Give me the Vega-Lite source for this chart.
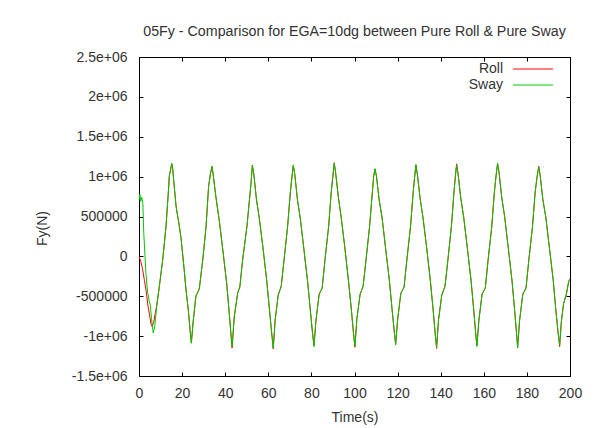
{
  "$schema": "https://vega.github.io/schema/vega-lite/v6.json",
  "width": 431,
  "height": 319,
  "autosize": {"type": "none"},
  "padding": {"left": 139, "top": 57, "right": 43, "bottom": 52},
  "background": "white",
  "title": {"text": "05Fy - Comparison for EGA=10dg between Pure Roll & Pure Sway", "font": "Liberation Sans", "fontSize": 14.25, "fontWeight": "normal", "color": "#333333", "anchor": "middle", "offset": 11},
  "config": {
    "view": {"stroke": "#000000", "strokeWidth": 1},
    "axis": {"labelFont": "Liberation Sans", "labelFontSize": 14, "labelColor": "#333333", "titleFont": "Liberation Sans", "titleFontSize": 14, "titleFontWeight": "normal", "titleColor": "#333333", "grid": false, "domain": false, "tickColor": "#000000", "tickSize": -4, "labelFlush": false, "labelOverlap": false},
    "legend": {"labelFont": "Liberation Sans", "labelFontSize": 14, "labelColor": "#333333"}
  },
  "data": {"values": [
    {"time":0,"fy":0,"series":"Roll"},{"time":0.8,"fy":-60000,"series":"Roll"},{"time":1.6,"fy":-150000,"series":"Roll"},{"time":2.5,"fy":-300000,"series":"Roll"},{"time":3.3,"fy":-430000,"series":"Roll"},{"time":4.0,"fy":-590000,"series":"Roll"},{"time":4.8,"fy":-720000,"series":"Roll"},{"time":5.6,"fy":-850000,"series":"Roll"},{"time":6.1,"fy":-880000,"series":"Roll"},{"time":6.8,"fy":-830000,"series":"Roll"},{"time":7.5,"fy":-720000,"series":"Roll"},{"time":8.2,"fy":-620000,"series":"Roll"},{"time":9.4,"fy":-390000,"series":"Roll"},{"time":11.0,"fy":-40000,"series":"Roll"},{"time":12.5,"fy":360000,"series":"Roll"},{"time":13.5,"fy":760000,"series":"Roll"},{"time":14.1,"fy":1010000,"series":"Roll"},{"time":14.8,"fy":1110000,"series":"Roll"},{"time":15.2,"fy":1160000,"series":"Roll"},{"time":15.7,"fy":1090000,"series":"Roll"},{"time":16.1,"fy":950000,"series":"Roll"},{"time":17.2,"fy":630000,"series":"Roll"},{"time":18.4,"fy":430000,"series":"Roll"},{"time":19.5,"fy":235000,"series":"Roll"},{"time":21.0,"fy":-180000,"series":"Roll"},{"time":21.8,"fy":-410000,"series":"Roll"},{"time":22.9,"fy":-680000,"series":"Roll"},{"time":23.7,"fy":-930000,"series":"Roll"},{"time":24.3,"fy":-1080000,"series":"Roll"},{"time":25.2,"fy":-805000,"series":"Roll"},{"time":26.4,"fy":-495000,"series":"Roll"},{"time":28.0,"fy":-410000,"series":"Roll"},{"time":29.6,"fy":-35000,"series":"Roll"},{"time":31.1,"fy":365000,"series":"Roll"},{"time":32.3,"fy":880000,"series":"Roll"},{"time":33.2,"fy":1040000,"series":"Roll"},{"time":33.9,"fy":1125000,"series":"Roll"},{"time":34.5,"fy":1010000,"series":"Roll"},{"time":35.7,"fy":740000,"series":"Roll"},{"time":37.3,"fy":440000,"series":"Roll"},{"time":39.1,"fy":30000,"series":"Roll"},{"time":40.7,"fy":-345000,"series":"Roll"},{"time":41.9,"fy":-720000,"series":"Roll"},{"time":42.6,"fy":-960000,"series":"Roll"},{"time":43.2,"fy":-1150000,"series":"Roll"},{"time":44.2,"fy":-760000,"series":"Roll"},{"time":45.8,"fy":-455000,"series":"Roll"},{"time":46.8,"fy":-385000,"series":"Roll"},{"time":48.1,"fy":-40000,"series":"Roll"},{"time":50.1,"fy":380000,"series":"Roll"},{"time":51.2,"fy":690000,"series":"Roll"},{"time":52.0,"fy":925000,"series":"Roll"},{"time":52.6,"fy":1140000,"series":"Roll"},{"time":53.3,"fy":1030000,"series":"Roll"},{"time":54.5,"fy":710000,"series":"Roll"},{"time":55.8,"fy":485000,"series":"Roll"},{"time":57.5,"fy":110000,"series":"Roll"},{"time":59.2,"fy":-290000,"series":"Roll"},{"time":60.5,"fy":-660000,"series":"Roll"},{"time":61.5,"fy":-940000,"series":"Roll"},{"time":62.3,"fy":-1160000,"series":"Roll"},{"time":63.2,"fy":-790000,"series":"Roll"},{"time":64.6,"fy":-490000,"series":"Roll"},{"time":66.0,"fy":-370000,"series":"Roll"},{"time":67.3,"fy":-50000,"series":"Roll"},{"time":69.0,"fy":390000,"series":"Roll"},{"time":70.2,"fy":790000,"series":"Roll"},{"time":71.0,"fy":1010000,"series":"Roll"},{"time":71.6,"fy":1140000,"series":"Roll"},{"time":72.3,"fy":1030000,"series":"Roll"},{"time":73.5,"fy":710000,"series":"Roll"},{"time":74.8,"fy":490000,"series":"Roll"},{"time":76.5,"fy":90000,"series":"Roll"},{"time":78.2,"fy":-310000,"series":"Roll"},{"time":79.5,"fy":-670000,"series":"Roll"},{"time":80.5,"fy":-960000,"series":"Roll"},{"time":81.2,"fy":-1120000,"series":"Roll"},{"time":82.1,"fy":-810000,"series":"Roll"},{"time":83.6,"fy":-470000,"series":"Roll"},{"time":85.0,"fy":-400000,"series":"Roll"},{"time":86.3,"fy":-40000,"series":"Roll"},{"time":88.0,"fy":370000,"series":"Roll"},{"time":89.2,"fy":810000,"series":"Roll"},{"time":90.0,"fy":1010000,"series":"Roll"},{"time":90.6,"fy":1175000,"series":"Roll"},{"time":91.3,"fy":1030000,"series":"Roll"},{"time":92.5,"fy":750000,"series":"Roll"},{"time":93.8,"fy":490000,"series":"Roll"},{"time":95.5,"fy":120000,"series":"Roll"},{"time":97.2,"fy":-310000,"series":"Roll"},{"time":98.5,"fy":-650000,"series":"Roll"},{"time":99.5,"fy":-960000,"series":"Roll"},{"time":100.2,"fy":-1140000,"series":"Roll"},{"time":101.1,"fy":-780000,"series":"Roll"},{"time":102.6,"fy":-480000,"series":"Roll"},{"time":104.0,"fy":-370000,"series":"Roll"},{"time":105.3,"fy":-60000,"series":"Roll"},{"time":107.0,"fy":380000,"series":"Roll"},{"time":108.2,"fy":770000,"series":"Roll"},{"time":108.9,"fy":1010000,"series":"Roll"},{"time":109.5,"fy":1095000,"series":"Roll"},{"time":110.2,"fy":1010000,"series":"Roll"},{"time":111.4,"fy":710000,"series":"Roll"},{"time":112.8,"fy":490000,"series":"Roll"},{"time":114.5,"fy":80000,"series":"Roll"},{"time":116.2,"fy":-310000,"series":"Roll"},{"time":117.4,"fy":-650000,"series":"Roll"},{"time":118.4,"fy":-930000,"series":"Roll"},{"time":119.1,"fy":-1100000,"series":"Roll"},{"time":120.0,"fy":-800000,"series":"Roll"},{"time":121.5,"fy":-460000,"series":"Roll"},{"time":123.0,"fy":-390000,"series":"Roll"},{"time":124.3,"fy":-40000,"series":"Roll"},{"time":126.0,"fy":370000,"series":"Roll"},{"time":127.2,"fy":800000,"series":"Roll"},{"time":127.9,"fy":990000,"series":"Roll"},{"time":128.5,"fy":1150000,"series":"Roll"},{"time":129.2,"fy":1020000,"series":"Roll"},{"time":130.4,"fy":740000,"series":"Roll"},{"time":131.8,"fy":480000,"series":"Roll"},{"time":133.5,"fy":110000,"series":"Roll"},{"time":135.2,"fy":-310000,"series":"Roll"},{"time":136.5,"fy":-670000,"series":"Roll"},{"time":137.4,"fy":-960000,"series":"Roll"},{"time":138.1,"fy":-1155000,"series":"Roll"},{"time":139.0,"fy":-790000,"series":"Roll"},{"time":140.5,"fy":-490000,"series":"Roll"},{"time":142.0,"fy":-370000,"series":"Roll"},{"time":143.3,"fy":-60000,"series":"Roll"},{"time":145.0,"fy":390000,"series":"Roll"},{"time":146.1,"fy":780000,"series":"Roll"},{"time":146.8,"fy":1010000,"series":"Roll"},{"time":147.4,"fy":1160000,"series":"Roll"},{"time":148.1,"fy":1030000,"series":"Roll"},{"time":149.3,"fy":730000,"series":"Roll"},{"time":150.7,"fy":490000,"series":"Roll"},{"time":152.4,"fy":90000,"series":"Roll"},{"time":154.1,"fy":-310000,"series":"Roll"},{"time":155.3,"fy":-660000,"series":"Roll"},{"time":156.2,"fy":-960000,"series":"Roll"},{"time":156.8,"fy":-1120000,"series":"Roll"},{"time":157.7,"fy":-810000,"series":"Roll"},{"time":159.2,"fy":-470000,"series":"Roll"},{"time":160.7,"fy":-400000,"series":"Roll"},{"time":162.0,"fy":-40000,"series":"Roll"},{"time":163.7,"fy":370000,"series":"Roll"},{"time":164.9,"fy":810000,"series":"Roll"},{"time":165.7,"fy":1010000,"series":"Roll"},{"time":166.4,"fy":1160000,"series":"Roll"},{"time":167.1,"fy":1050000,"series":"Roll"},{"time":168.3,"fy":740000,"series":"Roll"},{"time":169.7,"fy":500000,"series":"Roll"},{"time":171.4,"fy":90000,"series":"Roll"},{"time":173.1,"fy":-310000,"series":"Roll"},{"time":174.3,"fy":-670000,"series":"Roll"},{"time":175.2,"fy":-970000,"series":"Roll"},{"time":175.7,"fy":-1140000,"series":"Roll"},{"time":176.6,"fy":-810000,"series":"Roll"},{"time":178.1,"fy":-470000,"series":"Roll"},{"time":179.6,"fy":-400000,"series":"Roll"},{"time":180.9,"fy":-40000,"series":"Roll"},{"time":182.6,"fy":370000,"series":"Roll"},{"time":183.8,"fy":800000,"series":"Roll"},{"time":184.7,"fy":990000,"series":"Roll"},{"time":185.5,"fy":1130000,"series":"Roll"},{"time":186.2,"fy":1010000,"series":"Roll"},{"time":187.4,"fy":710000,"series":"Roll"},{"time":188.8,"fy":490000,"series":"Roll"},{"time":190.5,"fy":90000,"series":"Roll"},{"time":192.2,"fy":-300000,"series":"Roll"},{"time":193.4,"fy":-670000,"series":"Roll"},{"time":194.4,"fy":-940000,"series":"Roll"},{"time":195.2,"fy":-1130000,"series":"Roll"},{"time":196.0,"fy":-810000,"series":"Roll"},{"time":197.0,"fy":-590000,"series":"Roll"},{"time":198.3,"fy":-480000,"series":"Roll"},{"time":199.4,"fy":-310000,"series":"Roll"},{"time":200,"fy":-290000,"series":"Roll"},
    {"time":0,"fy":700000,"series":"Sway"},{"time":0.4,"fy":780000,"series":"Sway"},{"time":0.8,"fy":690000,"series":"Sway"},{"time":1.3,"fy":740000,"series":"Sway"},{"time":1.8,"fy":660000,"series":"Sway"},{"time":2.2,"fy":300000,"series":"Sway"},{"time":3.2,"fy":-210000,"series":"Sway"},{"time":4.0,"fy":-450000,"series":"Sway"},{"time":4.8,"fy":-570000,"series":"Sway"},{"time":5.3,"fy":-620000,"series":"Sway"},{"time":5.8,"fy":-780000,"series":"Sway"},{"time":6.6,"fy":-960000,"series":"Sway"},{"time":7.3,"fy":-880000,"series":"Sway"},{"time":8.2,"fy":-630000,"series":"Sway"},{"time":9.4,"fy":-380000,"series":"Sway"},{"time":11.0,"fy":-45000,"series":"Sway"},{"time":12.5,"fy":370000,"series":"Sway"},{"time":13.5,"fy":750000,"series":"Sway"},{"time":14.1,"fy":1020000,"series":"Sway"},{"time":14.8,"fy":1100000,"series":"Sway"},{"time":15.2,"fy":1167000,"series":"Sway"},{"time":15.7,"fy":1080000,"series":"Sway"},{"time":16.1,"fy":957000,"series":"Sway"},{"time":17.2,"fy":623000,"series":"Sway"},{"time":18.4,"fy":435000,"series":"Sway"},{"time":19.5,"fy":227000,"series":"Sway"},{"time":21.0,"fy":-170000,"series":"Sway"},{"time":21.8,"fy":-421000,"series":"Sway"},{"time":22.9,"fy":-672000,"series":"Sway"},{"time":23.7,"fy":-922000,"series":"Sway"},{"time":24.3,"fy":-1090000,"series":"Sway"},{"time":25.2,"fy":-797000,"series":"Sway"},{"time":26.4,"fy":-505000,"series":"Sway"},{"time":28.0,"fy":-400000,"series":"Sway"},{"time":29.6,"fy":-45000,"series":"Sway"},{"time":31.1,"fy":372000,"series":"Sway"},{"time":32.3,"fy":873000,"series":"Sway"},{"time":33.2,"fy":1050000,"series":"Sway"},{"time":33.9,"fy":1130000,"series":"Sway"},{"time":34.5,"fy":1000000,"series":"Sway"},{"time":35.7,"fy":748000,"series":"Sway"},{"time":37.3,"fy":435000,"series":"Sway"},{"time":39.1,"fy":39000,"series":"Sway"},{"time":40.7,"fy":-337000,"series":"Sway"},{"time":41.9,"fy":-713000,"series":"Sway"},{"time":42.6,"fy":-950000,"series":"Sway"},{"time":43.2,"fy":-1130000,"series":"Sway"},{"time":44.2,"fy":-755000,"series":"Sway"},{"time":45.8,"fy":-462000,"series":"Sway"},{"time":46.8,"fy":-380000,"series":"Sway"},{"time":48.1,"fy":-45000,"series":"Sway"},{"time":50.1,"fy":372000,"series":"Sway"},{"time":51.2,"fy":700000,"series":"Sway"},{"time":52.0,"fy":916000,"series":"Sway"},{"time":52.6,"fy":1145000,"series":"Sway"},{"time":53.3,"fy":1020000,"series":"Sway"},{"time":54.5,"fy":720000,"series":"Sway"},{"time":55.8,"fy":480000,"series":"Sway"},{"time":57.5,"fy":120000,"series":"Sway"},{"time":59.2,"fy":-280000,"series":"Sway"},{"time":60.5,"fy":-650000,"series":"Sway"},{"time":61.5,"fy":-950000,"series":"Sway"},{"time":62.3,"fy":-1150000,"series":"Sway"},{"time":63.2,"fy":-800000,"series":"Sway"},{"time":64.6,"fy":-480000,"series":"Sway"},{"time":66.0,"fy":-380000,"series":"Sway"},{"time":67.3,"fy":-40000,"series":"Sway"},{"time":69.0,"fy":380000,"series":"Sway"},{"time":70.2,"fy":800000,"series":"Sway"},{"time":71.0,"fy":1000000,"series":"Sway"},{"time":71.6,"fy":1145000,"series":"Sway"},{"time":72.3,"fy":1020000,"series":"Sway"},{"time":73.5,"fy":720000,"series":"Sway"},{"time":74.8,"fy":480000,"series":"Sway"},{"time":76.5,"fy":100000,"series":"Sway"},{"time":78.2,"fy":-300000,"series":"Sway"},{"time":79.5,"fy":-680000,"series":"Sway"},{"time":80.5,"fy":-950000,"series":"Sway"},{"time":81.2,"fy":-1130000,"series":"Sway"},{"time":82.1,"fy":-800000,"series":"Sway"},{"time":83.6,"fy":-480000,"series":"Sway"},{"time":85.0,"fy":-390000,"series":"Sway"},{"time":86.3,"fy":-50000,"series":"Sway"},{"time":88.0,"fy":380000,"series":"Sway"},{"time":89.2,"fy":800000,"series":"Sway"},{"time":90.0,"fy":1020000,"series":"Sway"},{"time":90.6,"fy":1167000,"series":"Sway"},{"time":91.3,"fy":1040000,"series":"Sway"},{"time":92.5,"fy":740000,"series":"Sway"},{"time":93.8,"fy":500000,"series":"Sway"},{"time":95.5,"fy":110000,"series":"Sway"},{"time":97.2,"fy":-300000,"series":"Sway"},{"time":98.5,"fy":-660000,"series":"Sway"},{"time":99.5,"fy":-950000,"series":"Sway"},{"time":100.2,"fy":-1130000,"series":"Sway"},{"time":101.1,"fy":-790000,"series":"Sway"},{"time":102.6,"fy":-470000,"series":"Sway"},{"time":104.0,"fy":-380000,"series":"Sway"},{"time":105.3,"fy":-50000,"series":"Sway"},{"time":107.0,"fy":370000,"series":"Sway"},{"time":108.2,"fy":780000,"series":"Sway"},{"time":108.9,"fy":1000000,"series":"Sway"},{"time":109.5,"fy":1100000,"series":"Sway"},{"time":110.2,"fy":1000000,"series":"Sway"},{"time":111.4,"fy":720000,"series":"Sway"},{"time":112.8,"fy":480000,"series":"Sway"},{"time":114.5,"fy":90000,"series":"Sway"},{"time":116.2,"fy":-300000,"series":"Sway"},{"time":117.4,"fy":-660000,"series":"Sway"},{"time":118.4,"fy":-920000,"series":"Sway"},{"time":119.1,"fy":-1110000,"series":"Sway"},{"time":120.0,"fy":-790000,"series":"Sway"},{"time":121.5,"fy":-470000,"series":"Sway"},{"time":123.0,"fy":-380000,"series":"Sway"},{"time":124.3,"fy":-50000,"series":"Sway"},{"time":126.0,"fy":380000,"series":"Sway"},{"time":127.2,"fy":790000,"series":"Sway"},{"time":127.9,"fy":1000000,"series":"Sway"},{"time":128.5,"fy":1145000,"series":"Sway"},{"time":129.2,"fy":1030000,"series":"Sway"},{"time":130.4,"fy":730000,"series":"Sway"},{"time":131.8,"fy":490000,"series":"Sway"},{"time":133.5,"fy":100000,"series":"Sway"},{"time":135.2,"fy":-300000,"series":"Sway"},{"time":136.5,"fy":-680000,"series":"Sway"},{"time":137.4,"fy":-950000,"series":"Sway"},{"time":138.1,"fy":-1140000,"series":"Sway"},{"time":139.0,"fy":-800000,"series":"Sway"},{"time":140.5,"fy":-480000,"series":"Sway"},{"time":142.0,"fy":-380000,"series":"Sway"},{"time":143.3,"fy":-50000,"series":"Sway"},{"time":145.0,"fy":380000,"series":"Sway"},{"time":146.1,"fy":790000,"series":"Sway"},{"time":146.8,"fy":1000000,"series":"Sway"},{"time":147.4,"fy":1145000,"series":"Sway"},{"time":148.1,"fy":1020000,"series":"Sway"},{"time":149.3,"fy":740000,"series":"Sway"},{"time":150.7,"fy":480000,"series":"Sway"},{"time":152.4,"fy":100000,"series":"Sway"},{"time":154.1,"fy":-300000,"series":"Sway"},{"time":155.3,"fy":-670000,"series":"Sway"},{"time":156.2,"fy":-950000,"series":"Sway"},{"time":156.8,"fy":-1130000,"series":"Sway"},{"time":157.7,"fy":-800000,"series":"Sway"},{"time":159.2,"fy":-480000,"series":"Sway"},{"time":160.7,"fy":-390000,"series":"Sway"},{"time":162.0,"fy":-50000,"series":"Sway"},{"time":163.7,"fy":380000,"series":"Sway"},{"time":164.9,"fy":800000,"series":"Sway"},{"time":165.7,"fy":1020000,"series":"Sway"},{"time":166.4,"fy":1170000,"series":"Sway"},{"time":167.1,"fy":1040000,"series":"Sway"},{"time":168.3,"fy":750000,"series":"Sway"},{"time":169.7,"fy":490000,"series":"Sway"},{"time":171.4,"fy":100000,"series":"Sway"},{"time":173.1,"fy":-300000,"series":"Sway"},{"time":174.3,"fy":-680000,"series":"Sway"},{"time":175.2,"fy":-960000,"series":"Sway"},{"time":175.7,"fy":-1150000,"series":"Sway"},{"time":176.6,"fy":-800000,"series":"Sway"},{"time":178.1,"fy":-480000,"series":"Sway"},{"time":179.6,"fy":-390000,"series":"Sway"},{"time":180.9,"fy":-50000,"series":"Sway"},{"time":182.6,"fy":380000,"series":"Sway"},{"time":183.8,"fy":790000,"series":"Sway"},{"time":184.7,"fy":1000000,"series":"Sway"},{"time":185.5,"fy":1120000,"series":"Sway"},{"time":186.2,"fy":1000000,"series":"Sway"},{"time":187.4,"fy":720000,"series":"Sway"},{"time":188.8,"fy":480000,"series":"Sway"},{"time":190.5,"fy":100000,"series":"Sway"},{"time":192.2,"fy":-290000,"series":"Sway"},{"time":193.4,"fy":-660000,"series":"Sway"},{"time":194.4,"fy":-930000,"series":"Sway"},{"time":195.2,"fy":-1110000,"series":"Sway"},{"time":196.0,"fy":-820000,"series":"Sway"},{"time":197.0,"fy":-600000,"series":"Sway"},{"time":198.3,"fy":-470000,"series":"Sway"},{"time":199.4,"fy":-317000,"series":"Sway"},{"time":200,"fy":-280000,"series":"Sway"}
  ]},
  "resolve": {"scale": {"x": "independent", "y": "independent"}},
  "layer": [
    {
      "mark": {"type": "line", "strokeWidth": 1, "clip": true},
      "encoding": {
        "x": {"field": "time", "type": "quantitative", "scale": {"domain": [0, 200], "nice": false, "zero": false},
              "axis": {"orient": "bottom", "title": "Time(s)", "values": [0,20,40,60,80,100,120,140,160,180,200], "labelPadding": 14, "titlePadding": 10}},
        "y": {"field": "fy", "type": "quantitative", "scale": {"domain": [-1500000, 2500000], "nice": false, "zero": false},
              "axis": {"orient": "left", "title": "Fy(N)", "values": [-1500000,-1000000,-500000,0,500000,1000000,1500000,2000000,2500000],
                       "labelPadding": 16,
                       "labelExpr": "abs(datum.value) >= 1000000 ? (datum.value/1000000) + 'e+06' : '' + datum.value",
                       "titleX": -97, "titleY": 171, "titleAngle": -90, "titleBaseline": "middle", "titleAlign": "center"}},
        "color": {"field": "series", "type": "nominal",
                  "scale": {"domain": ["Roll", "Sway"], "range": ["#ff0000", "#00c800"]},
                  "legend": {"title": null, "orient": "none", "legendX": 387, "legendY": 5, "padding": 0,
                             "symbolType": "M-4,0H4", "symbolSize": 100, "symbolStrokeWidth": 1,
                             "labelAlign": "right", "labelOffset": -37, "rowPadding": 2}}
      }
    },
    {
      "mark": {"type": "point", "opacity": 0},
      "encoding": {
        "x": {"field": "time", "type": "quantitative", "scale": {"domain": [0, 200], "nice": false, "zero": false},
              "axis": {"orient": "top", "title": null, "labels": false, "values": [0,20,40,60,80,100,120,140,160,180,200]}},
        "y": {"field": "fy", "type": "quantitative", "scale": {"domain": [-1500000, 2500000], "nice": false, "zero": false},
              "axis": {"orient": "right", "title": null, "labels": false, "values": [-1500000,-1000000,-500000,0,500000,1000000,1500000,2000000,2500000]}}
      }
    }
  ]
}
